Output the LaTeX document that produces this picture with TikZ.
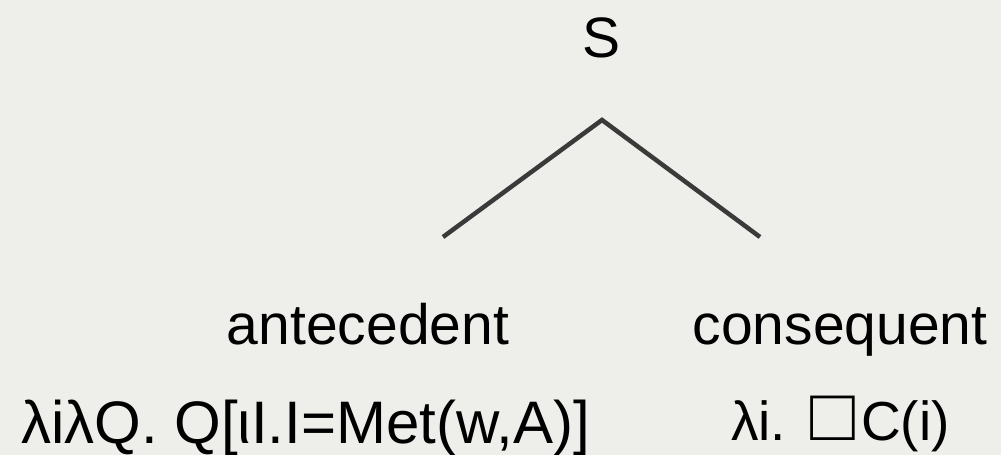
\documentclass[tikz,border=0pt]{standalone}
\usepackage{fontspec}
\setmainfont{Liberation Sans}
\usepackage{tikz}
\usetikzlibrary{positioning,calc}
\definecolor{paper}{RGB}{238,238,234}
\definecolor{branch}{RGB}{58,58,58}
\tikzset{  label/.style={font=\fontsize{57}{68}\selectfont,inner sep=0pt,text=black},
  sem/.style={font=\fontsize{60}{72}\selectfont,inner sep=0pt,text=black},
  semr/.style={font=\fontsize{55}{66}\selectfont,inner sep=0pt,text=black},
  edge/.style={draw=branch,line width=4.5pt} }
\newcommand{\nec}{\scalebox{1.35}{□}}
\begin{document}
\begin{tikzpicture}[x=1pt,y=1pt]
    \fill[paper] (0,0) rectangle (1001,455);
    \useasboundingbox (0,0) rectangle (1001,455);
    \node[label,anchor=base] (s) at (602,397) {S};
    \node[label,anchor=base] (ante) at (368,110) {antecedent};
    \node[label,anchor=base] (cons) at (840,110) {consequent};
    \node[sem,anchor=base west] (antesem) at (21,11) {λiλQ. Q[ιI.I=Met(w,A)]};
    \node[semr,anchor=base west] (conssem) at (731,14) {λi.\hspace{24pt}\nec\hspace{6pt}C(i)};
    \coordinate (apex) at (602,335);
    \coordinate (left) at (443,218);
    \coordinate (right) at (760,218);
    \draw[edge] (left) -- (apex) -- (right);
    \end{tikzpicture}
\end{document}
